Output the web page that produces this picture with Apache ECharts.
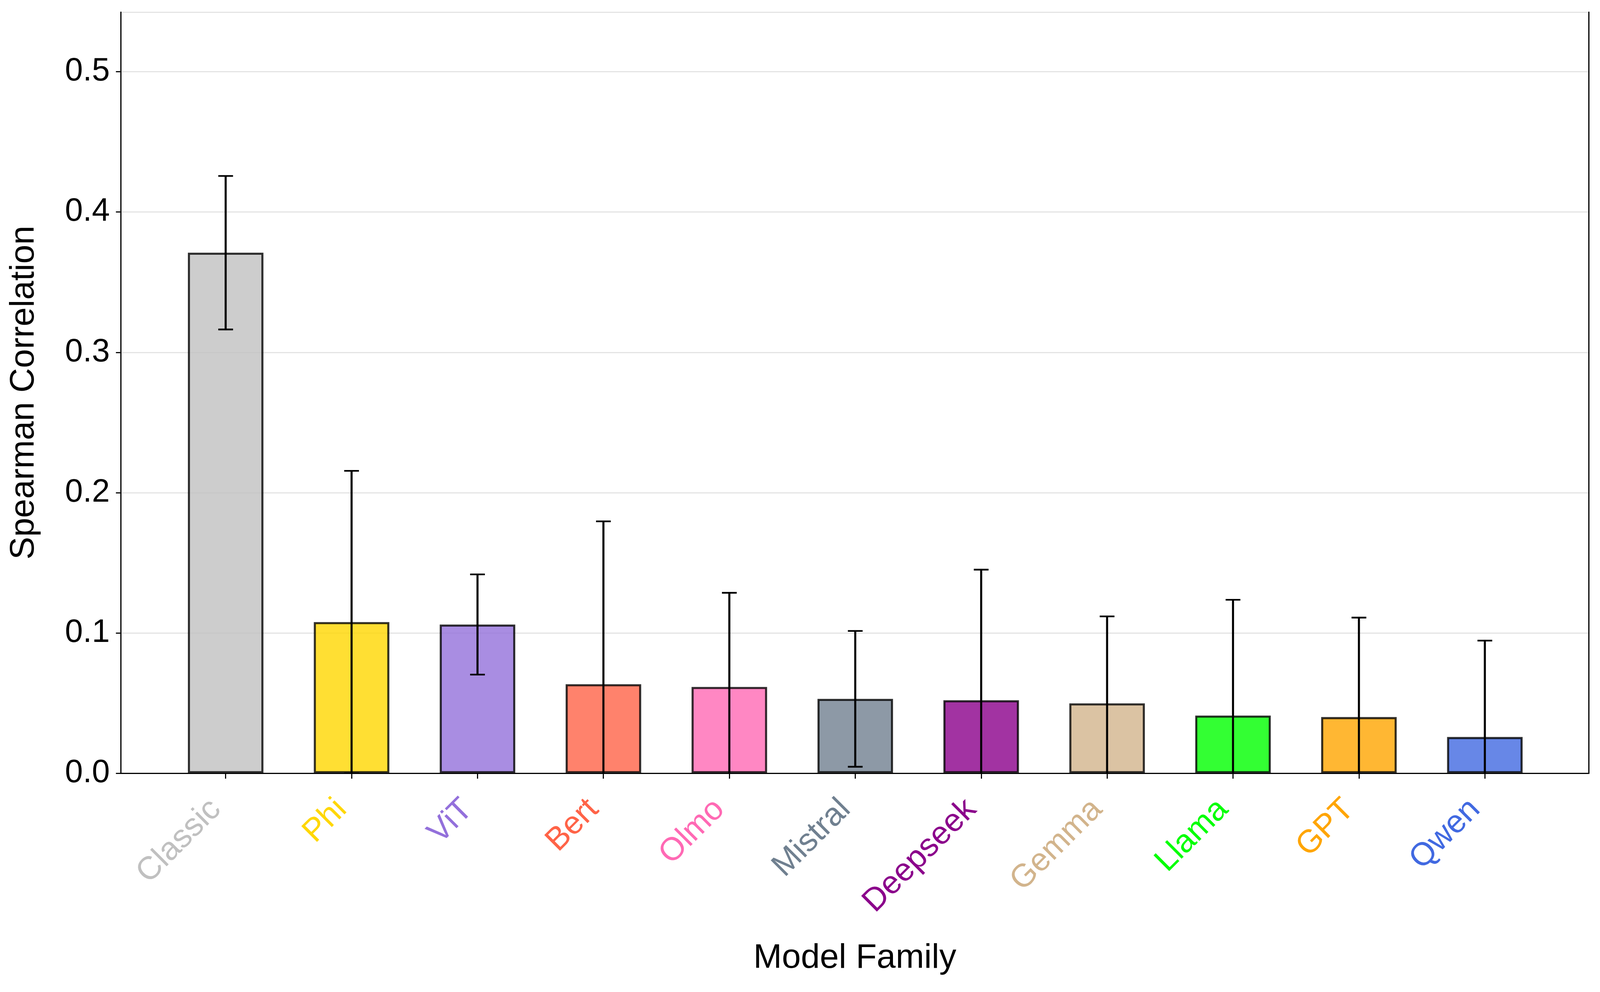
<!DOCTYPE html>
<html>
<head>
<meta charset="utf-8">
<script src="https://cdn.jsdelivr.net/npm/echarts@6/dist/echarts.min.js"></script>
<style>
html,body{margin:0;padding:0;background:#fff;overflow:hidden;}
#chart{width:100vw;height:100vh;}
</style>
</head>
<body>
<div id="chart"></div>
<script>
const categories = ['Classic','Phi','ViT','Bert','Olmo','Mistral','Deepseek','Gemma','Llama','GPT','Qwen'];
const means  = [0.371, 0.1077, 0.106, 0.0634, 0.0615, 0.053, 0.052, 0.0498, 0.0411, 0.040, 0.0258];
const errors = [0.0547, 0.1078, 0.0357, 0.1161, 0.0671, 0.0484, 0.0931, 0.062, 0.0825, 0.0709, 0.0687];
const baseColors = ['#C0C0C0','#FFD700','#9370DB','#FF6347','#FF69B4','#708090','#8B008B','#D2B48C','#00FF00','#FFA500','#4169E1'];
const yMin = 0, yMax = 0.5425, yStep = 0.1;

function rgba(hex, a){
  const n = parseInt(hex.slice(1),16);
  return 'rgba(' + ((n>>16)&255) + ',' + ((n>>8)&255) + ',' + (n&255) + ',' + a + ')';
}
const FONT = '"Liberation Sans", Arial, Helvetica, sans-serif';
const el = document.getElementById('chart');
const W = el.clientWidth || window.innerWidth;
const H = el.clientHeight || window.innerHeight;
const SX = W / 4445, SY = H / 2539;
const SF = Math.sqrt(SX * SY);
const X = (v) => v * SX, Y = (v) => v * SY, F = (v) => v * SF;
const frameLine = {show:true, lineStyle:{color:'#000', width:F(3.2)}};

const chart = echarts.init(el, null, {renderer:'canvas'});
const option = {
  backgroundColor:'#ffffff',
  animation:false,
  grid:[
    {left:X(336), right:X(31), top:Y(31), bottom:Y(560), show:false, containLabel:false},
    {left:X(452), right:X(145), top:Y(31), bottom:Y(560), show:false, containLabel:false}
  ],
  xAxis:[
    {gridIndex:0, type:'category', data:categories,
     axisLine:frameLine,
     axisTick:{show:false}, axisLabel:{show:false}, splitLine:{show:false},
     name:'Model Family', nameLocation:'middle', nameGap:Y(430),
     nameTextStyle:{fontSize:F(91), color:'#000', fontFamily:FONT}},
    {gridIndex:1, type:'category',
     data:categories.map((c,i)=>({value:c, textStyle:{color:baseColors[i]}})),
     axisLine:{show:false},
     axisTick:{show:true, alignWithLabel:true, length:Y(14), lineStyle:{color:'#000', width:F(3)}},
     axisLabel:{show:true, rotate:45, fontSize:F(86), margin:Y(55), fontFamily:FONT, interval:0,
       padding:[0, F(37), F(63), 0]},
     splitLine:{show:false}},
    {gridIndex:0, type:'category', data:categories, position:'top',
     axisLine:frameLine, axisTick:{show:false}, axisLabel:{show:false}, splitLine:{show:false}}
  ],
  yAxis:[
    {gridIndex:0, type:'value', min:yMin, max:yMax, interval:yStep,
     axisLine:frameLine,
     axisTick:{show:true, length:X(14), lineStyle:{color:'#000', width:F(3)}},
     axisLabel:{show:true, fontSize:F(86), color:'#000', margin:X(31), fontFamily:FONT, showMaxLabel:false,
       formatter:(v)=>v.toFixed(1)},
     splitLine:{show:true, lineStyle:{color:'#e4e4e4', width:F(3)}},
     name:'Spearman Correlation', nameLocation:'middle', nameGap:X(222),
     nameTextStyle:{fontSize:F(91), color:'#000', fontFamily:FONT}},
    {gridIndex:1, type:'value', min:yMin, max:yMax, interval:yStep, show:false,
     splitLine:{show:false}},
    {gridIndex:0, type:'value', min:yMin, max:yMax, interval:yStep, position:'right',
     axisLine:frameLine, axisTick:{show:false}, axisLabel:{show:false}, splitLine:{show:false}}
  ],
  series:[
    {type:'bar', xAxisIndex:1, yAxisIndex:1, barWidth:'60%', z:2,
     data:means.map((v,i)=>({value:v, itemStyle:{color:rgba(baseColors[i],0.8)}})),
     itemStyle:{borderColor:'rgba(0,0,0,0.8)', borderWidth:F(5.5)}},
    {type:'custom', xAxisIndex:1, yAxisIndex:1, z:3, clip:true,
     data:means.map((v,i)=>[i, v, errors[i]]),
     encode:{x:0, y:1},
     renderItem:function(params, api){
       const i = api.value(0), m = api.value(1), e = api.value(2);
       const t = api.coord([i, m+e]);
       const b = api.coord([i, m-e]);
       const hw = X(20.5);
       const st = {stroke:'#000', lineWidth:F(5.5), lineCap:'butt'};
       const cs = {stroke:'#000', lineWidth:F(4.5), lineCap:'butt'};
       return {type:'group', children:[
         {type:'line', shape:{x1:t[0], y1:t[1], x2:b[0], y2:b[1]}, style:st},
         {type:'line', shape:{x1:t[0]-hw, y1:t[1], x2:t[0]+hw, y2:t[1]}, style:cs},
         {type:'line', shape:{x1:b[0]-hw, y1:b[1], x2:b[0]+hw, y2:b[1]}, style:cs}
       ]};
     }}
  ]
};
chart.setOption(option);
</script>
</body>
</html>
